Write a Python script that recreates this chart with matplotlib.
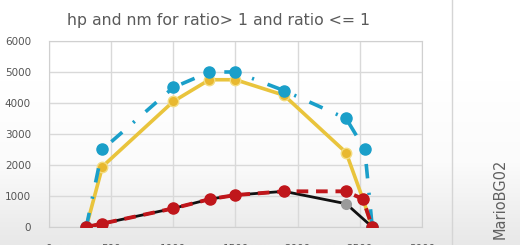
import numpy as np
import matplotlib
matplotlib.use('Agg')
import matplotlib.pyplot as plt

# rpm values and readings
x_hp_gt1 = [300, 430, 1000, 1290, 1500, 1890, 2390, 2525, 2600]
hp_gt1 = [0, 1950, 4050, 4750, 4750, 4250, 2400, 900, 0]

x_hp_le1 = [300, 430, 1000, 1290, 1500, 1890, 2390, 2540, 2600]
hp_le1 = [0, 2500, 4500, 5000, 5000, 4400, 3500, 2500, 0]

x_nm_gt1 = [300, 430, 1000, 1295, 1500, 1890, 2390, 2600]
nm_gt1 = [0, 110, 600, 900, 1030, 1150, 750, 0]

x_nm_le1 = [300, 430, 1000, 1295, 1500, 1890, 2390, 2525, 2600]
nm_le1 = [0, 110, 600, 900, 1030, 1150, 1150, 900, 0]

xticks = [0, 500, 1000, 1500, 2000, 2500, 3000]
yticks = [0, 1000, 2000, 3000, 4000, 5000, 6000]

fig = plt.figure(figsize=(5.2, 2.45), dpi=100)

# soft grey background like the video frame
bg = fig.add_axes([0, 0, 1, 1], zorder=-1)
grad = np.linspace(0, 1, 100).reshape(-1, 1)
bg.imshow(grad, aspect='auto', cmap=matplotlib.colors.LinearSegmentedColormap.from_list(
    'g', ['#ffffff', '#ffffff', '#fbfbfb', '#e8e8e8']), extent=[0, 1, 0, 1], origin='upper')
bg.axis('off')

ax = fig.add_axes([0.0942, 0.0735, 0.7173, 0.7592])
ax.set_facecolor('none')

ax.plot(x_hp_gt1, hp_gt1, color='#e9c43c', lw=2.6, marker='o', ms=7.5,
        markerfacecolor='#e8b830', markeredgecolor='#f3dc80', zorder=3)
ax.plot(x_hp_le1, hp_le1, color='#1a9fc9', lw=2.6, ls=(0, (4, 4, 0.6, 4)),
        marker='o', ms=8, markerfacecolor='#1a9fc9', markeredgecolor='#1a9fc9', zorder=4)
ax.plot(x_nm_gt1, nm_gt1, color='#111111', lw=2.0, zorder=5)
ax.plot([2390], [750], 'o', color='#9a9a9a', ms=7, zorder=5)
ax.plot(x_nm_le1, nm_le1, color='#c0161b', lw=2.8, ls=(0, (3, 2)),
        marker='o', ms=8, markerfacecolor='#c0161b', markeredgecolor='#c0161b', zorder=6)

ax.set_xlim(0, 3000)
ax.set_ylim(0, 6000)
ax.set_xticks(xticks)
ax.set_yticks(yticks)
ax.grid(True, color='#d9d9d9', lw=1)
ax.set_axisbelow(True)
for s in ax.spines.values():
    s.set_color('#d0d0d0')
ax.tick_params(length=0, labelsize=7.5, colors='#555555')
ax.tick_params(axis='y', pad=13)
ax.tick_params(axis='x', pad=12)

fig.text(0.42, 0.915, 'hp and nm for ratio> 1 and ratio <= 1', ha='center', va='center',
         fontsize=11.3, color='#5a5a5a')

fig.add_artist(plt.Line2D([452 / 520, 452 / 520], [0, 1], color='#d5d5d5', lw=1))
fig.text(500 / 520, 0.19, 'MarioBG02', rotation=90, ha='center', va='center',
         fontsize=10.5, color='#606060')

fig.savefig('out.png', dpi=100)
